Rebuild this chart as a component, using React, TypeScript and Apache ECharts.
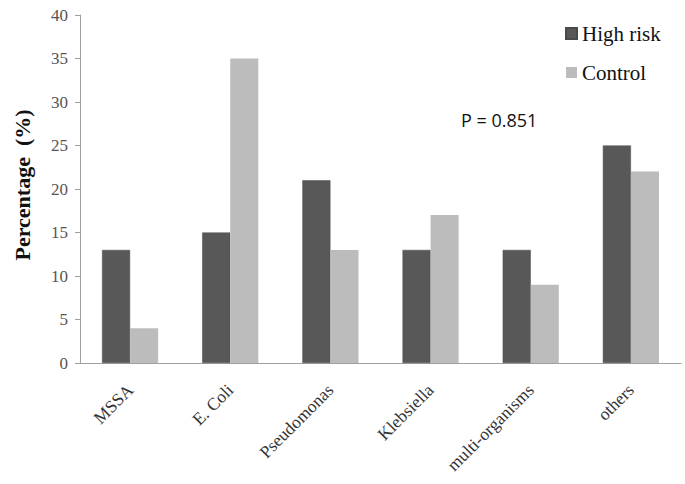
import React, { useEffect, useRef } from "react";
import * as echarts from "echarts";

const categories = ["MSSA", "E. Coli", "Pseudomonas", "Klebsiella", "multi-organisms", "others"];
const highRisk = [13, 15, 21, 13, 13, 25];
const control = [4, 35, 13, 17, 9, 22];
const seriesNames = ["High risk", "Control"];
const annotation = "P = 0.851";
const yTitle = "Percentage  (%)";

export default function App() {
  const ref = useRef<HTMLDivElement>(null);
  useEffect(() => {
    if (!ref.current) return;
    const chart = echarts.init(ref.current, null, { renderer: "svg" });
    const serif = "'Liberation Serif', 'DejaVu Serif', serif";
    chart.setOption({
      animation: false,
      backgroundColor: "#ffffff",
      grid: { left: 80, right: 4, top: 15, bottom: 121, containLabel: false },
      legend: {
        orient: "vertical",
        left: 560,
        top: 18,
        itemWidth: 11,
        itemHeight: 11,
        itemGap: 18,
        icon: "rect",
        textStyle: { fontFamily: serif, fontSize: 21, color: "#111" },
        data: seriesNames,
      },
      xAxis: {
        type: "category",
        data: categories,
        axisLine: { show: true, lineStyle: { color: "#a0a0a0", width: 1 } },
        axisTick: { show: false },
        axisLabel: {
          rotate: 45,
          margin: 24,
          fontFamily: serif,
          fontSize: 17.5,
          color: "#333",
          interval: 0,
        },
      },
      yAxis: {
        type: "value",
        min: 0,
        max: 40,
        interval: 5,
        splitLine: { show: false },
        axisLine: { show: true, lineStyle: { color: "#a0a0a0", width: 1 } },
        axisTick: { show: true, length: 5, lineStyle: { color: "#a0a0a0" } },
        axisLabel: { fontFamily: serif, fontSize: 17, color: "#555", margin: 12 },
      },
      graphic: [
        {
          type: "text",
          x: 22,
          y: 185,
          rotation: Math.PI / 2,
          style: {
            text: yTitle,
            font: "bold 22px 'Liberation Serif', 'DejaVu Serif', serif",
            fill: "#111",
            align: "center",
            verticalAlign: "middle",
          },
        },
        {
          type: "text",
          left: 461,
          top: 111,
          style: {
            text: annotation,
            font: "18px 'Open Sans', 'DejaVu Sans', sans-serif",
            fill: "#111",
          },
        },
      ],
      series: [
        {
          name: seriesNames[0],
          type: "bar",
          data: highRisk,
          barGap: "0%",
          barCategoryGap: "44%",
          itemStyle: { color: "#585858", borderColor: "#4a4a4a", borderWidth: 0.5 },
        },
        {
          name: seriesNames[1],
          type: "bar",
          data: control,
          barGap: "0%",
          barCategoryGap: "44%",
          itemStyle: { color: "#bcbcbc" },
        },
      ],
    });
    return () => chart.dispose();
  }, []);
  return <div ref={ref} style={{ width: 685, height: 484, position: "absolute", left: 0, top: 0 }} />;
}
